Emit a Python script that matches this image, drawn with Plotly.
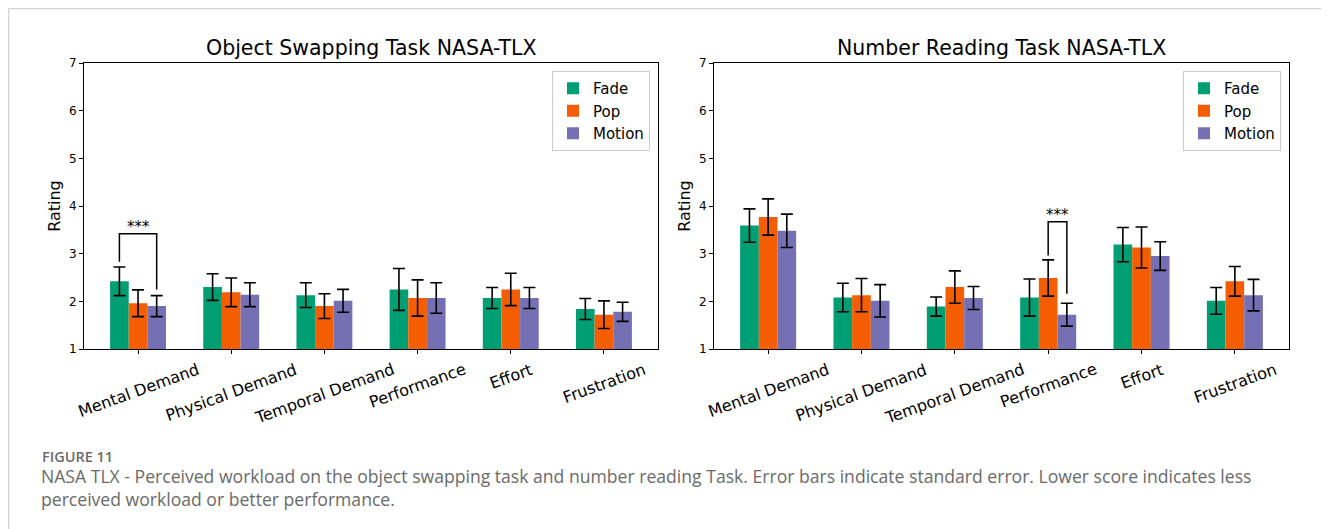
import plotly.graph_objects as go

categories = ["Mental Demand", "Physical Demand", "Temporal Demand", "Performance", "Effort", "Frustration"]
series_names = ["Fade", "Pop", "Motion"]
colors = ["#009e73", "#f55e00", "#7570b3"]

# Object swapping task
obj_fade = [2.42, 2.30, 2.13, 2.25, 2.07, 1.84]
obj_pop = [1.96, 2.19, 1.90, 2.07, 2.25, 1.72]
obj_motion = [1.90, 2.14, 2.01, 2.07, 2.07, 1.78]
obj_fade_err = [0.30, 0.28, 0.26, 0.44, 0.22, 0.22]
obj_pop_err = [0.28, 0.30, 0.26, 0.38, 0.34, 0.29]
obj_motion_err = [0.22, 0.25, 0.24, 0.32, 0.22, 0.20]

# Number reading task
num_fade = [3.59, 2.08, 1.89, 2.08, 3.19, 2.01]
num_pop = [3.77, 2.13, 2.30, 2.49, 3.13, 2.42]
num_motion = [3.48, 2.01, 2.07, 1.72, 2.95, 2.13]
num_fade_err = [0.35, 0.30, 0.20, 0.39, 0.36, 0.28]
num_pop_err = [0.38, 0.35, 0.34, 0.38, 0.43, 0.31]
num_motion_err = [0.35, 0.34, 0.24, 0.24, 0.30, 0.33]

y_ticks = [1, 2, 3, 4, 5, 6, 7]

# significance brackets: (x_left, x_right, top, left_leg_bottom, right_leg_bottom)
obj_bracket = [-0.2, 0.2, 3.42, 2.83, 2.25]
num_bracket = [3.0, 3.2, 3.67, 2.96, 2.16]
sig_label = "***"

titles = ["Object Swapping Task NASA-TLX", "Number Reading Task NASA-TLX"]
caption_head = "FIGURE 11"
caption_line1 = ("NASA TLX - Perceived workload on the object swapping task and number reading Task. "
                 "Error bars indicate standard error. Lower score indicates less")
caption_line2 = "perceived workload or better performance."

# page body has an 8px margin; map reference pixel coords to paper coords
OFF = 8
W, H = 1329 - OFF, 529 - OFF
def px(x):
    return (x - OFF) / W
def py(y):
    return (H - (y - OFF)) / H

fig = go.Figure()

panels = [
    (obj_fade, obj_pop, obj_motion, obj_fade_err, obj_pop_err, obj_motion_err, "x", "y", "legend"),
    (num_fade, num_pop, num_motion, num_fade_err, num_pop_err, num_motion_err, "x2", "y2", "legend2"),
]
for (f, p, m, fe, pe, me, xa, ya, lg) in panels:
    for name, vals, errs, col in zip(series_names, [f, p, m], [fe, pe, me], colors):
        fig.add_trace(go.Bar(
            x=categories, y=vals, name=name, marker=dict(color=col, line=dict(width=0)),
            error_y=dict(type="data", array=errs, visible=True, color="black", thickness=1.6, width=6),
            xaxis=xa, yaxis=ya, legend=lg, showlegend=True,
        ))

axis_common = dict(showline=True, linecolor="black", linewidth=1, mirror=True, automargin=False,
                   ticks="outside", ticklen=4, tickcolor="black", showgrid=False, zeroline=False)
dom_y = [py(349), py(63)]
fig.update_layout(
    width=W, height=H, margin=dict(l=0, r=0, t=0, b=0, autoexpand=False),
    paper_bgcolor="white", plot_bgcolor="white",
    barmode="group", bargap=0.4, bargroupgap=0,
    font=dict(family="DejaVu Sans", color="black"),
    xaxis=dict(domain=[px(84), px(658)], anchor="y", range=[-0.58, 5.58], showticklabels=False,
               **axis_common),
    yaxis=dict(domain=dom_y, anchor="x", range=[1, 7], tickvals=y_ticks, tickfont=dict(size=12),
               title=dict(text="Rating", font=dict(size=16), standoff=4), **axis_common),
    xaxis2=dict(domain=[px(714), px(1289)], anchor="y2", range=[-0.58, 5.58], showticklabels=False,
                **axis_common),
    yaxis2=dict(domain=dom_y, anchor="x2", range=[1, 7], tickvals=y_ticks, tickfont=dict(size=12),
                title=dict(text="Rating", font=dict(size=16), standoff=4), **axis_common),
    legend=dict(x=px(650), y=py(71), xanchor="right", yanchor="top", bgcolor="white",
                bordercolor="#cccccc", borderwidth=1, font=dict(size=15), tracegroupgap=2),
    legend2=dict(x=px(1281), y=py(71), xanchor="right", yanchor="top", bgcolor="white",
                 bordercolor="#cccccc", borderwidth=1, font=dict(size=15), tracegroupgap=2),
)

# rotated category labels, centred under each tick (as in the original)
for xa in ["x", "x2"]:
    for c in categories:
        fig.add_annotation(text=c, x=c, y=py(357), xref=xa, yref="paper", showarrow=False,
                           textangle=-20, xanchor="center", yanchor="top",
                           font=dict(size=16, family="DejaVu Sans", color="black"))

# titles
for t, xc in zip(titles, [px(371), px(1001)]):
    fig.add_annotation(text=t, x=xc, y=py(48), xref="paper", yref="paper", showarrow=False,
                       font=dict(size=20.5, family="DejaVu Sans", color="black"), xanchor="center", yanchor="middle")

# significance brackets
for br, xa, ya in [(obj_bracket, "x", "y"), (num_bracket, "x2", "y2")]:
    x0, x1, top, l0, r0 = br
    fig.add_shape(type="path", path=f"M {x0},{l0} L {x0},{top} L {x1},{top} L {x1},{r0}",
                  xref=xa, yref=ya, line=dict(color="black", width=1.5))
    fig.add_annotation(text=sig_label, x=(x0 + x1) / 2, y=top, xref=xa, yref=ya, showarrow=False,
                       yanchor="bottom", yshift=-4, font=dict(size=15, color="black"))

# page frame lines
fig.add_shape(type="line", xref="paper", yref="paper", x0=0.0004, x1=1, y0=0.9992, y1=0.9992,
              line=dict(color="#d4d4d4", width=1.5))
fig.add_shape(type="line", xref="paper", yref="paper", x0=0.0004, x1=0.0004, y0=0, y1=0.9992,
              line=dict(color="#d4d4d4", width=1.5))

# caption
fig.add_annotation(text=caption_head, x=px(40), y=py(457), xref="paper", yref="paper", showarrow=False,
                   xanchor="left", yanchor="middle", font=dict(size=14.5, family="Open Sans", color="#6a6a6a", weight=600))
fig.add_annotation(text=caption_line1, x=px(39), y=py(476), xref="paper", yref="paper", showarrow=False,
                   xanchor="left", yanchor="middle", font=dict(size=17.6, family="Open Sans", color="#6a6a6a"))
fig.add_annotation(text=caption_line2, x=px(39), y=py(499), xref="paper", yref="paper", showarrow=False,
                   xanchor="left", yanchor="middle", font=dict(size=17.6, family="Open Sans", color="#6a6a6a"))

fig.write_html("out.html")
